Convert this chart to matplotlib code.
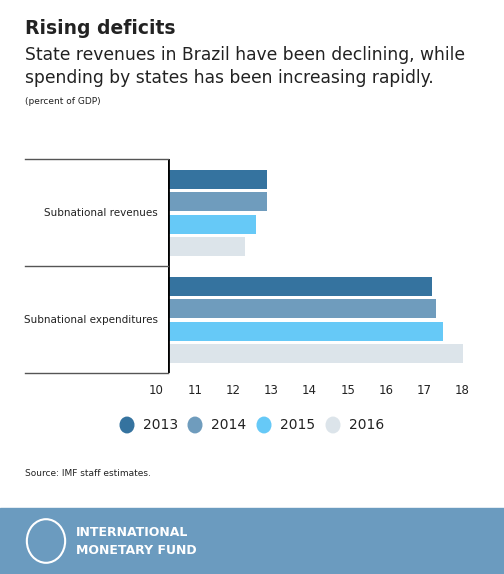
import matplotlib
matplotlib.use("Agg")
import matplotlib.pyplot as plt
from matplotlib.patches import Rectangle, Circle

categories = ["Subnational revenues", "Subnational expenditures"]
years = ["2013", "2014", "2015", "2016"]
values = {
    "2013": [12.9, 17.2],
    "2014": [12.9, 17.3],
    "2015": [12.6, 17.5],
    "2016": [12.3, 18.0],
}
ticks = [11, 12, 13, 14, 15, 16, 17, 18]
colors = ["#35739f", "#6f9cbd", "#66c9f7", "#dce4ea"]

W, H = 504, 574
fig = plt.figure(figsize=(5.04, 5.74), dpi=100)
fig.patch.set_facecolor("white")

def fx(px): return px / W
def fy(py): return 1 - py / H

fig.text(fx(25), fy(28), "Rising deficits", fontsize=13.5, fontweight="bold", va="center", color="#222")
fig.text(fx(25), fy(55), "State revenues in Brazil have been declining, while", fontsize=12.3, va="center", color="#222")
fig.text(fx(25), fy(78), "spending by states has been increasing rapidly.", fontsize=12.3, va="center", color="#222")
fig.text(fx(25), fy(102), "(percent of GDP)", fontsize=6.5, va="center", color="#222")

x0 = 10.3
ax = fig.add_axes([fx(168), fy(373), fx(474) - fx(168), fy(159) - fy(373)])
ax.set_xlim(x0, 18.3)
ax.set_ylim(2, 0)
bh = 0.18
offs = [-0.32, -0.11, 0.10, 0.31]
for i, y in enumerate(years):
    for j, v in enumerate(values[y]):
        ax.barh(j + 0.5 + offs[i] + 0.01, v - x0, left=x0, height=bh, color=colors[i])
for s in ax.spines.values():
    s.set_visible(False)
ax.axvline(x0, color="black", lw=2)
ax.set_yticks([])
ax.set_xticks(ticks)
ax.tick_params(axis="x", length=0, labelsize=8.5, pad=8, colors="#222")
ax.text(10.0, 2.0, "10", transform=ax.transData, fontsize=8.5, ha="center", va="top", color="#222")
ax.texts[-1].set_position((10.0, 2.0))
ax.texts[-1].set_clip_on(False)
import matplotlib.transforms as mt
ax.texts[-1].set_transform(ax.transData + mt.ScaledTranslation(0, -8/72, fig.dpi_scale_trans))

for py in [159, 266, 373]:
    fig.add_artist(plt.Line2D([fx(25), fx(168)], [fy(py), fy(py)], color="#555", lw=1))
fig.text(fx(158), fy(213), categories[0], fontsize=7.5, ha="right", va="center", color="#222")
fig.text(fx(158), fy(320), categories[1], fontsize=7.5, ha="right", va="center", color="#222")

lx = [127, 195, 264, 333]
for i, y in enumerate(years):
    fig.add_artist(Circle((fx(lx[i]), fy(425)), 0.0135, color=colors[i], transform=fig.transFigure))
    fig.text(fx(lx[i] + 16), fy(425), y, fontsize=10, va="center", color="#222")

fig.text(fx(25), fy(473), "Source: IMF staff estimates.", fontsize=6.5, va="center", color="#222")

fig.add_artist(Rectangle((0, 0), 1, fy(508), color="#6b9bbf", transform=fig.transFigure))
fig.add_artist(Circle((fx(46), fy(541)), 0.038, facecolor="none", edgecolor="white", lw=1.5, transform=fig.transFigure))
fig.text(fx(76), fy(533), "INTERNATIONAL", fontsize=9, fontweight="bold", color="white", va="center")
fig.text(fx(76), fy(550), "MONETARY FUND", fontsize=9, fontweight="bold", color="white", va="center")

fig.savefig("out.png", dpi=100)
